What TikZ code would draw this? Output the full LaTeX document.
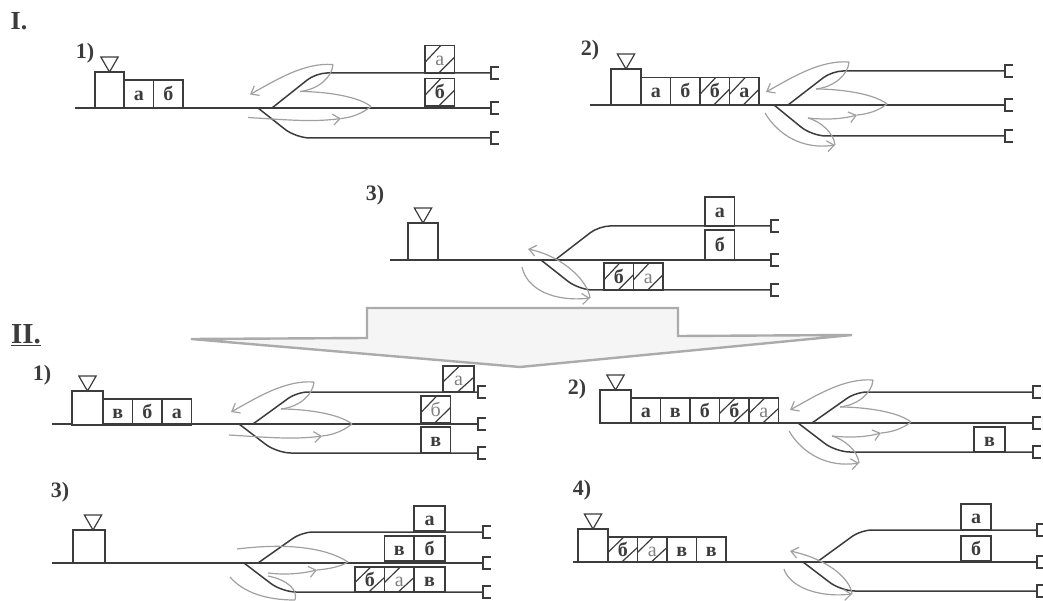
\documentclass[tikz,border=0pt]{standalone}
\usepackage{fontspec}
\setmainfont{Liberation Serif}
\usetikzlibrary{positioning,arrows.meta,shapes.geometric}
\definecolor{rail}{HTML}{3C3C3C}
\definecolor{swing}{HTML}{A0A0A0}
\definecolor{paleGrey}{HTML}{F5F5F5}
\definecolor{wing}{HTML}{ABABAB}
\tikzset{
  track/.style={draw=rail, line width=1.5pt},
  stopper/.style={rectangle, inner sep=0pt, outer sep=0pt, minimum width=8pt, minimum height=12pt, anchor=west},
  loco/.style={rectangle, draw=rail, line width=1.3pt, fill=white, inner sep=0pt, outer sep=0pt,
               minimum width=30pt, minimum height=36pt, anchor=south west},
  flag/.style={regular polygon, regular polygon sides=3, shape border rotate=180, draw=rail,
               line width=1.2pt, inner sep=0pt, outer sep=0pt, minimum size=20pt},
  wagon/.style={rectangle, draw=rail, line width=1.3pt, inner sep=0pt, outer sep=0pt,
                minimum width=29.5pt, minimum height=27.5pt, text height=13pt, text depth=0pt,
                text=rail, font=\fontsize{20}{20}\selectfont\bfseries},
  hatched/.style={wagon, path picture={
      \draw[draw=rail, line width=1.2pt] ([yshift=-3pt]path picture bounding box.west)
        -- ([xshift=1pt]path picture bounding box.north);
      \draw[draw=rail, line width=1.2pt] ([xshift=-1pt]path picture bounding box.south)
        -- ([yshift=2pt]path picture bounding box.east);}},
  faded/.style={text=gray, font=\fontsize{20}{20}\selectfont},
  swingline/.style={draw=swing, line width=1.2pt},
  swingarrow/.style={swingline, -{Straight Barb[length=7pt,width=11pt]}},
  bigarrow/.style={draw=wing, line width=2.4pt, fill=paleGrey, line join=miter},
  panel/.style={font=\fontsize{22}{22}\selectfont\bfseries, text=rail, inner sep=0pt}
}
\newcommand{\yard}[7]{
  \coordinate (#1start) at (#2,#6);
  \coordinate (#1jup) at (#3,#6);
  \coordinate (#1jdn) at (#3-14,#6);
  \coordinate (#1bup) at (#3+44,#5);
  \coordinate (#1bdn) at (#3+24,#7);
  \node[stopper] (#1stop1) at (#4,#5) {};
  \node[stopper] (#1stop2) at (#4,#6) {};
  \node[stopper] (#1stop3) at (#4,#7) {};
  \draw[track] (#1start) -- (#1stop2.west);
  \draw[track, rounded corners=11pt] (#1jup) -- (#1bup) -- (#1stop1.west);
  \draw[track, rounded corners=14pt] (#1jdn) -- (#1bdn) -- (#1stop3.west);
  \foreach \n in {1,2,3}
    \draw[track] (#1stop\n.north east) -- (#1stop\n.north west) -- (#1stop\n.south west) -- (#1stop\n.south east);
}
\newcommand{\engine}[5][]{
  \node[loco, minimum width=#4pt, minimum height=#5pt] (#2loco) at (#3) {};
  \node[flag, above=0pt of #2loco, #1] (#2flag) {};
}
\newcommand{\swingtop}[3]{
  \begin{scope}[shift={(#2,#3)}]
    \coordinate (#1tip) at (61,-43);
    \coordinate (#1back) at (-22,-13);
    \coordinate (#1in) at (28,-16);
    \coordinate (#1far) at (99,-1);
  \end{scope}
  \draw[swingarrow] (#1tip) .. controls (#2+32,#3-45) and (#2+5,#3-28) .. (#1back);
  \draw[swingline] (#1tip) .. controls (#2+60,#3-30) and (#2+46,#3-18) .. (#1in);
  \draw[swingline] (#1in) .. controls (#2+50,#3-16) and (#2+85,#3-12) .. (#1far);
}
\newcommand{\swingrun}[3]{
  \begin{scope}[shift={(#2,#3)}]
    \coordinate (#1tail) at (-24,10);
    \coordinate (#1head) at (69,11);
  \end{scope}
  \draw[swingarrow] (#1tail) .. controls (#2+10,#3+12) and (#2+40,#3+15) .. (#1head);
  \draw[swingline] (#1far) .. controls (#2+90,#3+6) and (#2+80,#3+10) .. (#1head);
}
\newcommand{\swingdown}[3]{
  \begin{scope}[shift={(#2,#3)}]
    \coordinate (#1low) at (20,13);
    \coordinate (#1head) at (69,10);
    \coordinate (#1drop) at (47,40);
    \coordinate (#1tail) at (-23,8);
  \end{scope}
  \draw[swingarrow] (#1low) .. controls (#2+38,#3+15) and (#2+55,#3+14) .. (#1head);
  \draw[swingline] (#1far) .. controls (#2+90,#3+6) and (#2+80,#3+9) .. (#1head);
  \draw[swingline] (#1low) .. controls (#2+32,#3+16) and (#2+46,#3+28) .. (#1drop);
  \draw[swingarrow] (#1tail) .. controls (#2-10,#3+30) and (#2+15,#3+45) .. (#1drop);
}
\newcommand{\swingback}[4]{
  \begin{scope}[shift={(#2,#3)}]
    \coordinate (#1back) at (-27,-11);
    \coordinate (#1tip) at (35,#4);
    \coordinate (#1tail) at (-33,7);
  \end{scope}
  \draw[swingarrow] (#1tip) .. controls (#2+33,#3+#4-16) and (#2+10,#3-3) .. (#1back);
  \draw[swingarrow] (#1tail) .. controls (#2-28,#3+#4-8) and (#2,#3+#4+4) .. (#1tip);
}
\begin{document}
\begin{tikzpicture}[x=1pt,y=-1pt]
\useasboundingbox (0,0) rectangle (1043,601);
\node[panel, font=\fontsize{26}{26}\selectfont\bfseries] (one) at (19,21) {I.};
\node[panel, font=\fontsize{29}{29}\selectfont\bfseries] (two) at (26,335) {\underline{II.}};

\node[panel] (pa) at (85,53) {1)};
\yard{a}{75}{272}{491}{73}{108}{138}
\engine{a}{95,108}{29}{36}
\node[wagon, minimum height=28pt, anchor=south west] (aw1) at (124,108) {а};
\node[wagon, minimum height=28pt, right=0pt of aw1] (aw2) {б};
\node[hatched, faded, anchor=south west] (at1) at (425,73) {а};
\node[hatched, anchor=south west] (at2) at (425,106) {б};
\swingtop{a}{272}{107.5}
\swingrun{a}{272}{107.5}

\node[panel] (pb) at (590,50) {2)};
\yard{b}{590}{788}{1005}{71}{105}{136}
\engine{b}{611,105}{30}{36}
\node[wagon, anchor=south west] (bw1) at (641,105) {а};
\node[wagon, right=0pt of bw1] (bw2) {б};
\node[hatched, right=0pt of bw2] (bw3) {б};
\node[hatched, right=0pt of bw3] (bw4) {а};
\swingtop{b}{788}{105}
\swingdown{b}{788}{105}

\node[panel] (pc) at (375,195) {3)};
\yard{c}{390}{555}{771}{226}{260}{290}
\engine{c}{408,260}{30}{37}
\node[wagon, anchor=south west, minimum height=29pt] (ct1) at (705,226) {а};
\node[wagon, anchor=south west, minimum height=30pt] (ct2) at (705,260) {б};
\node[hatched, anchor=south west] (ct3) at (604,290.5) {б};
\node[hatched, faded, right=0pt of ct3] (ct4) {а};
\swingback{c}{555}{260}{38}

\draw[bigarrow] (367,308) -- (678,308) -- (678,336) -- (852,335) -- (520,367) -- (191,339) -- (367,338) -- cycle;

\node[panel] (pd) at (42,375) {1)};
\yard{d}{52}{253}{478}{392}{424}{453}
\engine{d}{72,425}{31}{34}
\node[wagon, anchor=south west, minimum height=26pt] (dw1) at (103,425) {в};
\node[wagon, minimum height=26pt, right=0pt of dw1] (dw2) {б};
\node[wagon, minimum height=26pt, right=0pt of dw2] (dw3) {а};
\node[hatched, faded, anchor=south west, minimum width=31pt, minimum height=26pt] (dt1) at (443,392) {а};
\node[hatched, faded, anchor=south west, minimum height=27pt] (dt2) at (421,423) {б};
\node[wagon, anchor=south west, minimum height=26pt] (dt3) at (421,453) {в};
\swingtop{d}{253}{425}
\swingrun{d}{253}{425}

\node[panel] (pe) at (577,389) {2)};
\yard{e}{600}{812}{1033}{392}{423}{452}
\engine{e}{600,423}{31}{33}
\node[wagon, anchor=south west, minimum height=25pt] (ew1) at (631,423) {а};
\node[wagon, minimum height=25pt, right=0pt of ew1] (ew2) {в};
\node[wagon, minimum height=25pt, right=0pt of ew2] (ew3) {б};
\node[hatched, minimum height=25pt, right=0pt of ew3] (ew4) {б};
\node[hatched, faded, minimum height=25pt, right=0pt of ew4] (ew5) {а};
\node[wagon, anchor=south west, minimum width=31pt, minimum height=25pt] (et1) at (974,452) {в};
\swingtop{e}{812}{423}
\swingdown{e}{812}{423}

\node[panel] (pf) at (60,492) {3)};
\yard{f}{52}{258}{483}{532}{563}{592}
\engine[xshift=4pt]{f}{73,563}{32}{33}
\node[wagon, anchor=south west, minimum width=31pt, minimum height=25pt] (ft1) at (414,531) {а};
\node[wagon, anchor=south west, minimum width=31pt, minimum height=25pt] (ft2) at (414,561) {б};
\node[wagon, minimum height=25pt, left=0pt of ft2] (ft3) {в};
\node[wagon, anchor=south west, minimum width=31pt, minimum height=25pt] (ft4) at (414,592) {в};
\node[hatched, faded, minimum height=25pt, left=0pt of ft4] (ft5) {а};
\node[hatched, minimum height=25pt, left=0pt of ft5] (ft6) {б};
\coordinate (fstart2) at (237,549);
\coordinate (ffar) at (348,562);
\coordinate (fmid) at (268,573);
\coordinate (fhead) at (317,570);
\coordinate (flow) at (268,576);
\coordinate (fdrop) at (295,600);
\coordinate (ftail) at (230,577);
\draw[swingline] (fstart2) .. controls (285,543) and (325,547) .. (ffar);
\draw[swingline] (ffar) .. controls (340,567) and (328,569) .. (fhead);
\draw[swingarrow] (fmid) .. controls (285,575) and (300,574) .. (fhead);
\draw[swingline] (flow) .. controls (288,580) and (298,590) .. (fdrop);
\draw[swingline] (ftail) .. controls (243,592) and (265,600) .. (fdrop);

\node[panel] (pg) at (582,490) {4)};
\yard{g}{573}{817}{1037}{530}{562}{591}
\engine{g}{578,562}{30}{33}
\node[hatched, anchor=south west, minimum height=25pt] (gw1) at (608,562) {б};
\node[hatched, faded, minimum height=25pt, right=0pt of gw1] (gw2) {а};
\node[wagon, minimum height=25pt, right=0pt of gw2] (gw3) {в};
\node[wagon, minimum height=25pt, right=0pt of gw3] (gw4) {в};
\node[wagon, anchor=south west, minimum width=30pt, minimum height=26pt] (gt1) at (961,530) {а};
\node[wagon, anchor=south west, minimum width=30pt, minimum height=25pt] (gt2) at (961,561) {б};
\swingback{g}{817}{562}{32}
\end{tikzpicture}
\end{document}
